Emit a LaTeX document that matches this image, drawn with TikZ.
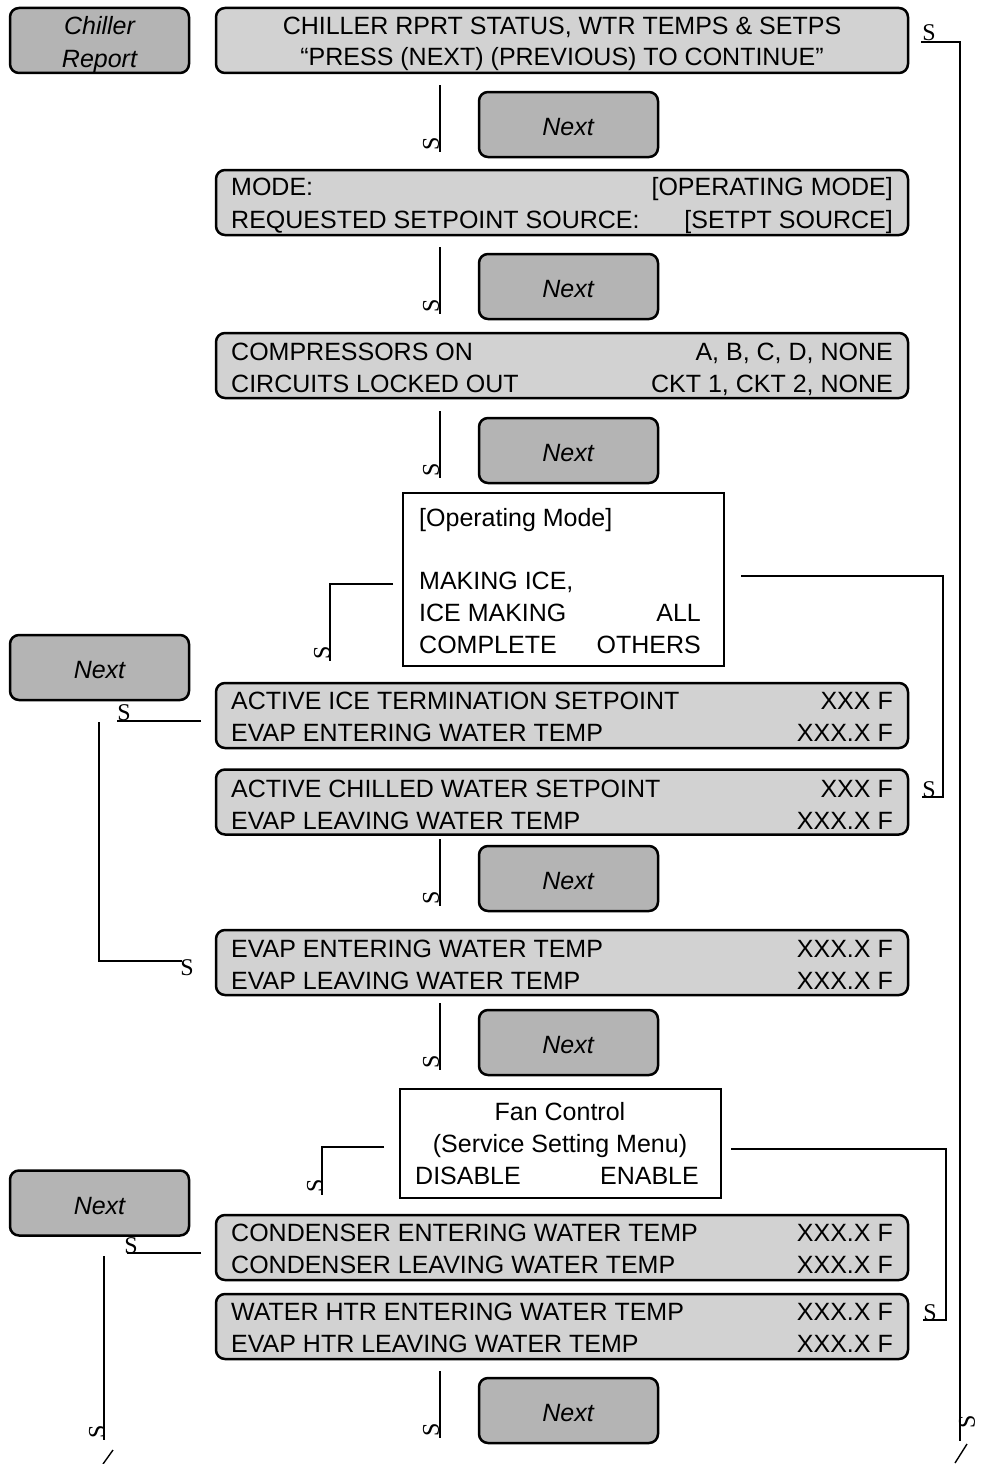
\documentclass[tikz,border=0pt]{standalone}
\usepackage{fontspec}
\setmainfont{Liberation Sans}
\newfontfamily\sglyphfont{Liberation Serif}
\definecolor{boxgray}{HTML}{D2D2D2}
\definecolor{nextgray}{HTML}{B4B4B4}
\begin{document}
\begin{tikzpicture}[x=1pt,y=-1pt,
  mainbox/.style={draw, line width=2.5pt, rounded corners=9pt, fill=boxgray, minimum width=692pt, minimum height=65pt, inner sep=0pt},
  nextbox/.style={draw, line width=2.5pt, rounded corners=9pt, fill=nextgray, minimum width=179pt, minimum height=65pt, inner sep=0pt, font=\fontsize{25}{30}\selectfont\itshape},
  whitebox/.style={draw, line width=2.5pt, fill=white, inner sep=0pt},
  txt/.style={inner sep=0pt, font=\fontsize{25}{30}\selectfont},
  itxt/.style={inner sep=0pt, font=\fontsize{25}{30}\selectfont\itshape},
  sg/.style={inner sep=0pt, font=\sglyphfont\fontsize{24}{24}\selectfont},
  conn/.style={line width=2.6pt},
  slash/.style={line width=1.4pt}]
\useasboundingbox (0,0) rectangle (985,1464);

% ---------- Chiller report ----------
\node[nextbox] (chiller) at (99.5,40.5) {};
\node[itxt, anchor=base] (chillerA) at (99.5,35) {Chiller};
\node[itxt, anchor=base] (chillerB) at (99.5,67) {Report};

% ---------- Main boxes ----------
\node[mainbox] (b1) at (562,40.5) {};
\node[txt, anchor=base] (b1a) at (562,35) {CHILLER RPRT STATUS, WTR TEMPS \& SETPS};
\node[txt, anchor=base] (b1b) at (562,66) {“PRESS (NEXT) (PREVIOUS) TO CONTINUE”};

\node[mainbox] (b2) at (562,202.5) {};
\node[txt, anchor=base west] (b2a) at (231,195) {MODE:};
\node[txt, anchor=base east] (b2b) at (893,195) {[OPERATING MODE]};
\node[txt, anchor=base west] (b2c) at (231,228) {REQUESTED SETPOINT SOURCE:};
\node[txt, anchor=base east] (b2d) at (893,228) {[SETPT SOURCE]};

\node[mainbox] (b3) at (562,365.5) {};
\node[txt, anchor=base west] (b3a) at (231,360) {COMPRESSORS ON};
\node[txt, anchor=base east] (b3b) at (893,360) {A, B, C, D, NONE};
\node[txt, anchor=base west] (b3c) at (231,392) {CIRCUITS LOCKED OUT};
\node[txt, anchor=base east] (b3d) at (893,392) {CKT 1, CKT 2, NONE};

\node[mainbox] (b4) at (562,715.5) {};
\node[txt, anchor=base west] (b4a) at (231,709) {ACTIVE ICE TERMINATION SETPOINT};
\node[txt, anchor=base east] (b4b) at (893,709) {XXX F};
\node[txt, anchor=base west] (b4c) at (231,741) {EVAP ENTERING WATER TEMP};
\node[txt, anchor=base east] (b4d) at (893,741) {XXX.X F};

\node[mainbox] (b5) at (562,802) {};
\node[txt, anchor=base west] (b5a) at (231,797) {ACTIVE CHILLED WATER SETPOINT};
\node[txt, anchor=base east] (b5b) at (893,797) {XXX F};
\node[txt, anchor=base west] (b5c) at (231,829) {EVAP LEAVING WATER TEMP};
\node[txt, anchor=base east] (b5d) at (893,829) {XXX.X F};

\node[mainbox] (b6) at (562,962.5) {};
\node[txt, anchor=base west] (b6a) at (231,957) {EVAP ENTERING WATER TEMP};
\node[txt, anchor=base east] (b6b) at (893,957) {XXX.X F};
\node[txt, anchor=base west] (b6c) at (231,989) {EVAP LEAVING WATER TEMP};
\node[txt, anchor=base east] (b6d) at (893,989) {XXX.X F};

\node[mainbox] (b7) at (562,1247.5) {};
\node[txt, anchor=base west] (b7a) at (231,1241) {CONDENSER ENTERING WATER TEMP};
\node[txt, anchor=base east] (b7b) at (893,1241) {XXX.X F};
\node[txt, anchor=base west] (b7c) at (231,1273) {CONDENSER LEAVING WATER TEMP};
\node[txt, anchor=base east] (b7d) at (893,1273) {XXX.X F};

\node[mainbox] (b8) at (562,1326.5) {};
\node[txt, anchor=base west] (b8a) at (231,1320) {WATER HTR ENTERING WATER TEMP};
\node[txt, anchor=base east] (b8b) at (893,1320) {XXX.X F};
\node[txt, anchor=base west] (b8c) at (231,1352) {EVAP HTR LEAVING WATER TEMP};
\node[txt, anchor=base east] (b8d) at (893,1352) {XXX.X F};

% ---------- Next boxes ----------
\foreach \t/\n in {92/n1,254/n2,418/n3,846/n4,1010/n5,1378/n6}{
  \node[nextbox] (\n) at (568.5,\t+32.5) {};
  \node[itxt, anchor=base] (\n t) at (568,\t+43) {Next};
  \coordinate (\n va) at (440,\t-7);
  \coordinate (\n vb) at (440,\t+60);
  \draw[conn] (\n va) -- (\n vb);
  \node[sg, rotate=90] (\n s) at (431,\t+52) {S};
}
\node[nextbox] (nl1) at (99.5,667.5) {};
\node[itxt, anchor=base] (nl1t) at (99.5,678) {Next};
\node[nextbox] (nl2) at (99.5,1203) {};
\node[itxt, anchor=base] (nl2t) at (99.5,1214) {Next};

% ---------- Decision boxes ----------
\node[whitebox, minimum width=321pt, minimum height=173pt] (ops) at (563.5,579.5) {};
\node[txt, anchor=base west] (opsa) at (419,526) {[Operating Mode]};
\node[txt, anchor=base west] (opsb) at (419,589) {MAKING ICE,};
\node[txt, anchor=base west] (opsc) at (419,621) {ICE MAKING};
\node[txt, anchor=base east] (opsd) at (701,621) {ALL};
\node[txt, anchor=base west] (opse) at (419,653) {COMPLETE};
\node[txt, anchor=base east] (opsf) at (701,653) {OTHERS};

\node[whitebox, minimum width=321pt, minimum height=109pt] (fan) at (560.5,1143.5) {};
\node[txt, anchor=base] (fana) at (560,1120) {Fan Control};
\node[txt, anchor=base] (fanb) at (560,1152) {(Service Setting Menu)};
\node[txt, anchor=base west] (fanc) at (415,1184) {DISABLE};
\node[txt, anchor=base east] (fand) at (699,1184) {ENABLE};

% ---------- Connectors ----------
\coordinate (c1a) at (393,584); \coordinate (c1b) at (330,584); \coordinate (c1c) at (330,661);
\draw[conn] (c1a) -- (c1b) -- (c1c);
\node[sg, rotate=90] (s1) at (322,653) {S};

\coordinate (c2a) at (741,576); \coordinate (c2b) at (943,576); \coordinate (c2c) at (943,797); \coordinate (c2d) at (922,797);
\draw[conn] (c2a) -- (c2b) -- (c2c) -- (c2d);
\node[sg, anchor=base] (s2) at (929,797) {S};

\coordinate (c3a) at (201,721); \coordinate (c3b) at (117,721);
\draw[conn] (c3a) -- (c3b);
\node[sg, anchor=base] (s3) at (124,720) {S};

\coordinate (c4a) at (99,722); \coordinate (c4b) at (99,961); \coordinate (c4c) at (182,961);
\draw[conn] (c4a) -- (c4b) -- (c4c);
\node[sg, anchor=base] (s4) at (187,975) {S};

\coordinate (c5a) at (384,1147); \coordinate (c5b) at (322,1147); \coordinate (c5c) at (322,1195);
\draw[conn] (c5a) -- (c5b) -- (c5c);
\node[sg, rotate=90] (s5) at (315,1186) {S};

\coordinate (c6a) at (731,1149); \coordinate (c6b) at (946,1149); \coordinate (c6c) at (946,1320); \coordinate (c6d) at (923,1320);
\draw[conn] (c6a) -- (c6b) -- (c6c) -- (c6d);
\node[sg, anchor=base] (s6) at (930,1320) {S};

\coordinate (c7a) at (201,1253); \coordinate (c7b) at (127,1253);
\draw[conn] (c7a) -- (c7b);
\node[sg, anchor=base] (s7) at (131,1253) {S};

\coordinate (c8a) at (104,1256); \coordinate (c8b) at (104,1440);
\draw[conn] (c8a) -- (c8b);
\node[sg, rotate=90] (s8) at (97,1432) {S};
\coordinate (sl1a) at (113,1450); \coordinate (sl1b) at (103,1464);
\draw[slash] (sl1a) -- (sl1b);

\coordinate (c9a) at (921,42); \coordinate (c9b) at (960,42); \coordinate (c9c) at (960,1441);
\draw[conn] (c9a) -- (c9b) -- (c9c);
\node[sg, anchor=base] (s9) at (929,41) {S};
\node[sg, rotate=90] (s9b) at (967,1422) {S};
\coordinate (sl2a) at (967,1444); \coordinate (sl2b) at (955,1463);
\draw[slash] (sl2a) -- (sl2b);
\end{tikzpicture}
\end{document}
